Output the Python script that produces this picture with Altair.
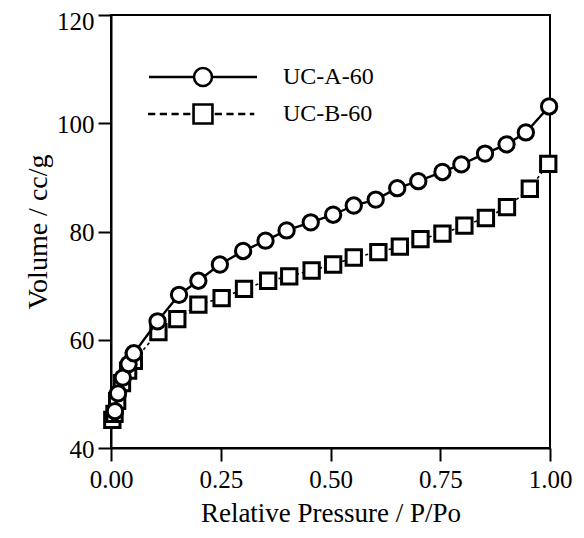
import altair as alt
import pandas as pd

series_names = ["UC-A-60", "UC-B-60"]

p_a = [0.009, 0.016, 0.027, 0.040, 0.052, 0.106, 0.155, 0.199, 0.248, 0.301, 0.352, 0.400,
       0.455, 0.506, 0.553, 0.603, 0.652, 0.700, 0.755, 0.798, 0.852, 0.901, 0.945, 0.998]
v_a = [46.8, 50.1, 53.0, 55.5, 57.5, 63.4, 68.3, 70.9, 73.9, 76.4, 78.3, 80.2,
       81.7, 83.1, 84.8, 85.9, 88.0, 89.3, 91.0, 92.4, 94.4, 96.1, 98.3, 103.1]

p_b = [0.003, 0.008, 0.014, 0.025, 0.039, 0.052, 0.108, 0.151, 0.199, 0.252, 0.303, 0.358,
       0.406, 0.457, 0.506, 0.553, 0.609, 0.658, 0.705, 0.755, 0.805, 0.854, 0.902, 0.954, 0.996]
v_b = [45.2, 46.3, 48.7, 52.0, 54.3, 56.1, 61.4, 63.8, 66.5, 67.7, 69.4, 70.9,
       71.7, 72.8, 73.9, 75.2, 76.2, 77.2, 78.6, 79.6, 81.1, 82.5, 84.5, 87.9, 92.5]

x_ticks = [0.0, 0.25, 0.5, 0.75, 1.0]
y_ticks = [40, 60, 80, 100, 120]

df = pd.concat([
    pd.DataFrame({"p": p_a, "v": v_a, "series": series_names[0]}),
    pd.DataFrame({"p": p_b, "v": v_b, "series": series_names[1]}),
], ignore_index=True)

FONT = "Liberation Serif"

x_enc = alt.X("p:Q", scale=alt.Scale(domain=[0, 1], nice=False, zero=False),
              axis=alt.Axis(values=x_ticks, format=".2f", title="Relative Pressure / P/Po",
                            labelFlush=False, labelPadding=6, titlePadding=8,
                            titleFontSize=27))
y_enc = alt.Y("v:Q", scale=alt.Scale(domain=[40, 120], nice=False, zero=False),
              axis=alt.Axis(values=y_ticks, format="d", title="Volume / cc/g",
                            labelFlush=False, labelPadding=4,
                            labelOffset={"condition": {"test": "datum.value == 120", "value": 6},
                                         "value": 1},
                            titlePadding=4, titleFontSize=28))

base = alt.Chart(df).encode(x=x_enc, y=y_enc)

line_b = base.transform_filter(alt.datum.series == series_names[1]).mark_line(
    color="black", strokeWidth=1.6, strokeDash=[3, 3])
pts_b = base.transform_filter(alt.datum.series == series_names[1]).mark_point(
    shape="square", size=235, filled=True, fill="white", stroke="black", strokeWidth=3, opacity=1)
line_a = base.transform_filter(alt.datum.series == series_names[0]).mark_line(
    color="black", strokeWidth=2.4)
pts_a = base.transform_filter(alt.datum.series == series_names[0]).mark_point(
    shape="circle", size=235, filled=True, fill="white", stroke="black", strokeWidth=3, opacity=1)

# legend symbols: line + marker drawn as custom symbol paths
path_a = "M-6,0L-1,0M1,0L6,0M-1,0A1,1 0 1,1 1,0A1,1 0 1,1 -1,0"
dashes_b = ("M-6.1,0L-5.3,0M-4.8,0L-4.0,0M-3.5,0L-2.7,0M-2.2,0L-1.4,0"
            "M1.3,0L2.1,0M2.6,0L3.4,0M3.9,0L4.7,0M5.2,0L5.7,0")
path_b = dashes_b + "M-1.05,-1.05L1.05,-1.05L1.05,1.05L-1.05,1.05Z"

# legend-only layer: filtered to no rows, the explicit domain still gives the entries
legend_layer = base.transform_filter("datum.p < 0").mark_point(
    filled=False, color="black", strokeWidth=2.6).encode(
    shape=alt.Shape("series:N",
                    scale=alt.Scale(domain=series_names, range=[path_a, path_b]),
                    legend=alt.Legend(
                        title=None, orient="none", legendX=80, legendY=50,
                        symbolSize=324, symbolStrokeWidth=2.6, symbolStrokeColor="black",
                        symbolFillColor="white", symbolOpacity=1,
                        labelFont=FONT, labelFontSize=24, labelColor="black",
                        labelOffset=68, rowPadding=7, padding=0,
                    ))
)

chart = alt.layer(line_b, pts_b, line_a, pts_a, legend_layer).properties(
    width=439, height=433,
    autosize=alt.AutoSizeParams(type="none"),
    padding={"left": 103, "top": 7, "right": 26, "bottom": 82},
    background="white",
).configure_view(
    stroke="black", strokeWidth=2
).configure_axis(
    domainColor="black", domainWidth=2,
    tickColor="black", tickWidth=2, tickSize=13,
    grid=False,
    labelFont=FONT, labelFontSize=25, labelColor="black",
    titleFont=FONT, titleColor="black", titleFontWeight="normal",
)

chart.save("out.html", embed_options={"renderer": "svg", "actions": False})
